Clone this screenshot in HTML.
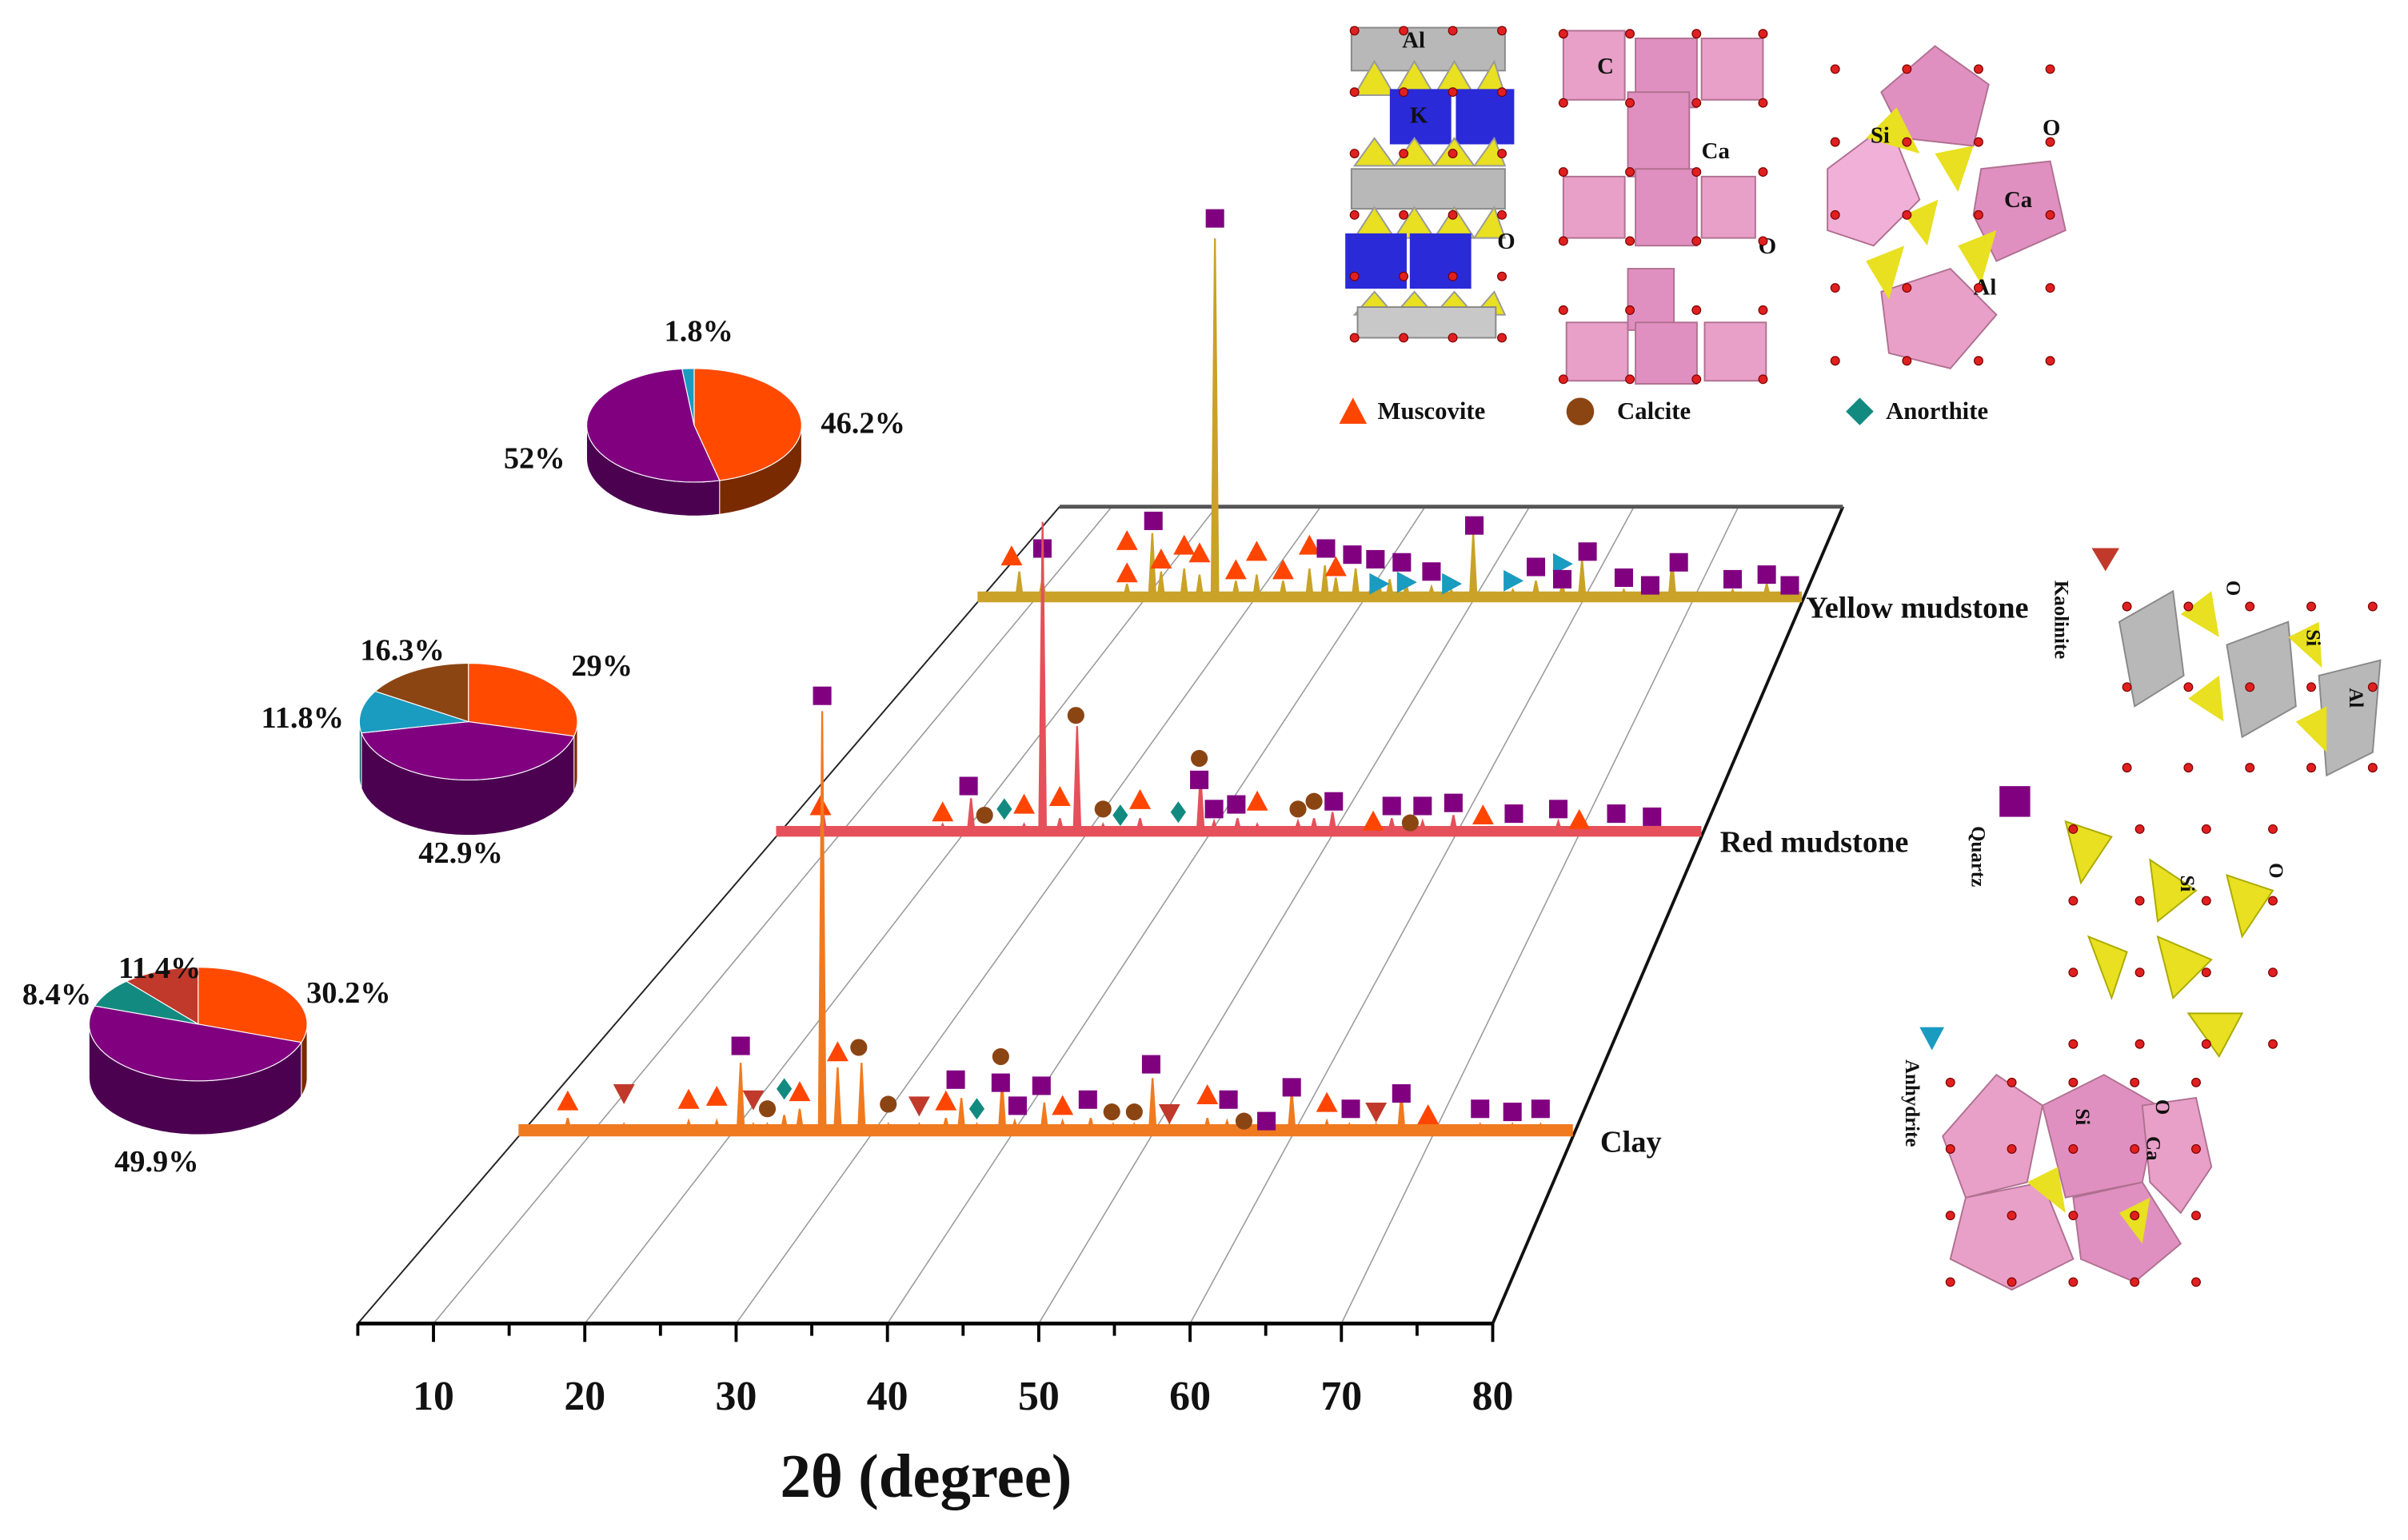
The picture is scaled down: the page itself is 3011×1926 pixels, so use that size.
<!DOCTYPE html>
<html><head><meta charset="utf-8"><style>
html,body{margin:0;padding:0;background:#fff;}
svg{display:block;}
text{font-family:"Liberation Serif",serif;font-weight:bold;fill:#111;}
</style></head><body>
<svg id="chart" width="3011" height="1926" viewBox="0 0 1568 1003" preserveAspectRatio="none" xmlns="http://www.w3.org/2000/svg">
<g id="crystals">
 <g>
  <rect x="880" y="18" width="100" height="28" fill="#b8b8b8" stroke="#888"/>
  <polygon points="882,62 895,40 908,62 921,40 934,62 947,40 960,62 973,40 980,62" fill="#e8e020" stroke="#999"/>
  <rect x="905" y="58" width="40" height="36" fill="#2a2ad8"/><rect x="948" y="58" width="38" height="36" fill="#2a2ad8"/>
  <polygon points="882,108 895,90 908,108 921,90 934,108 947,90 960,108 973,90 980,108" fill="#e8e020" stroke="#999"/>
  <rect x="880" y="110" width="100" height="26" fill="#b8b8b8" stroke="#888"/>
  <polygon points="882,155 895,135 908,155 921,135 934,155 947,135 960,155 973,135 980,155" fill="#e8e020" stroke="#999"/>
  <rect x="876" y="152" width="40" height="36" fill="#2a2ad8"/><rect x="918" y="152" width="40" height="36" fill="#2a2ad8"/>
  <polygon points="882,205 895,190 908,205 921,190 934,205 947,190 960,205 973,190 980,205" fill="#e8e020" stroke="#999"/>
  <rect x="884" y="200" width="90" height="20" fill="#c8c8c8" stroke="#888"/>
  <text x="913" y="31" font-size="15">Al</text><text x="918" y="80" font-size="15" fill="#fff">K</text><text x="975" y="162" font-size="15">O</text>
 </g>
 <g>
  <rect x="1018" y="20" width="40" height="45" fill="#e8a0c8" stroke="#b07090"/><rect x="1065" y="25" width="40" height="45" fill="#e090c0" stroke="#b07090"/><rect x="1108" y="25" width="40" height="40" fill="#e8a0c8" stroke="#b07090"/>
  <rect x="1060" y="60" width="40" height="55" fill="#e090c0" stroke="#b07090"/>
  <rect x="1018" y="115" width="40" height="40" fill="#e8a0c8" stroke="#b07090"/><rect x="1065" y="110" width="40" height="50" fill="#e090c0" stroke="#b07090"/><rect x="1108" y="115" width="35" height="40" fill="#e8a0c8" stroke="#b07090"/>
  <rect x="1060" y="175" width="30" height="40" fill="#e090c0" stroke="#b07090"/>
  <rect x="1020" y="210" width="40" height="38" fill="#e8a0c8" stroke="#b07090"/><rect x="1065" y="210" width="40" height="40" fill="#e090c0" stroke="#b07090"/><rect x="1110" y="210" width="40" height="38" fill="#e8a0c8" stroke="#b07090"/>
  <text x="1040" y="48" font-size="15">C</text><text x="1108" y="103" font-size="15">Ca</text><text x="1145" y="165" font-size="15">O</text>
 </g>
 <g>
  <polygon points="1190,110 1230,80 1250,130 1220,160 1190,150" fill="#f0b0d8" stroke="#b07090"/>
  <polygon points="1225,60 1260,30 1295,55 1285,95 1240,90" fill="#e090c0" stroke="#b07090"/>
  <polygon points="1290,110 1335,105 1345,150 1300,170 1285,140" fill="#e090c0" stroke="#b07090"/>
  <polygon points="1225,190 1270,175 1300,205 1270,240 1230,230" fill="#e8a0c8" stroke="#b07090"/>
  <polygon points="1215,90 1235,70 1250,100" fill="#e8e020"/><polygon points="1260,100 1285,95 1275,125" fill="#e8e020"/>
  <polygon points="1240,140 1262,130 1255,160" fill="#e8e020"/><polygon points="1275,160 1300,150 1290,185" fill="#e8e020"/>
  <polygon points="1215,170 1240,160 1230,195" fill="#e8e020"/>
  <text x="1218" y="93" font-size="15">Si</text><text x="1330" y="88" font-size="15">O</text><text x="1305" y="135" font-size="15">Ca</text><text x="1285" y="192" font-size="15">Al</text>
 </g>
 <g>
  <polygon points="1380,405 1415,385 1422,440 1390,460" fill="#b8b8b8" stroke="#888"/>
  <polygon points="1450,420 1490,405 1495,460 1460,480" fill="#b8b8b8" stroke="#888"/>
  <polygon points="1510,440 1550,430 1545,490 1515,505" fill="#b8b8b8" stroke="#888"/>
  <polygon points="1420,400 1440,385 1445,415" fill="#e8e020"/><polygon points="1425,455 1445,440 1448,470" fill="#e8e020"/>
  <polygon points="1490,415 1510,405 1512,435" fill="#e8e020"/><polygon points="1495,470 1515,460 1515,490" fill="#e8e020"/>
  <text transform="translate(1450,378) rotate(90)" font-size="13">O</text><text transform="translate(1502,410) rotate(90)" font-size="13">Si</text><text transform="translate(1530,448) rotate(90)" font-size="13">Al</text>
 </g>
 <g>
  <polygon points="1345,535 1375,545 1355,575" fill="#e8e020" stroke="#aa0"/><polygon points="1400,560 1430,580 1405,600" fill="#e8e020" stroke="#aa0"/>
  <polygon points="1450,570 1480,580 1460,610" fill="#e8e020" stroke="#aa0"/><polygon points="1405,610 1440,625 1415,650" fill="#e8e020" stroke="#aa0"/>
  <polygon points="1360,610 1385,620 1375,650" fill="#e8e020" stroke="#aa0"/><polygon points="1425,660 1460,660 1445,688" fill="#e8e020" stroke="#aa0"/>
  <text transform="translate(1420,570) rotate(90)" font-size="13">Si</text><text transform="translate(1478,562) rotate(90)" font-size="13">O</text>
 </g>
 <g>
  <polygon points="1265,740 1300,700 1330,720 1320,770 1280,780" fill="#e8a0c8" stroke="#b07090"/>
  <polygon points="1330,720 1370,700 1405,720 1395,770 1345,780" fill="#e090c0" stroke="#b07090"/>
  <polygon points="1280,780 1330,770 1350,820 1310,840 1270,820" fill="#e8a0c8" stroke="#b07090"/>
  <polygon points="1350,780 1395,770 1420,810 1390,835 1355,820" fill="#e090c0" stroke="#b07090"/>
  <polygon points="1395,720 1430,715 1440,760 1420,790 1400,770" fill="#e8a0c8" stroke="#b07090"/>
  <polygon points="1320,770 1340,760 1345,790" fill="#e8e020"/><polygon points="1380,790 1400,780 1395,810" fill="#e8e020"/>
  <text transform="translate(1352,722) rotate(90)" font-size="13">Si</text><text transform="translate(1404,716) rotate(90)" font-size="13">O</text><text transform="translate(1398,740) rotate(90)" font-size="13">Ca</text>
 </g>
 <g id="odots"></g>
</g>
<g id="plot"></g>
<g id="pies"></g>
<g>
 <polygon points="872,276 881,259 890,276" fill="#FF4500"/>
 <text x="897" y="273" font-size="16">Muscovite</text>
 <circle cx="1029" cy="268" r="9" fill="#8B4513"/>
 <text x="1053" y="273" font-size="16">Calcite</text>
 <polygon points="1211,259 1220,268 1211,277 1202,268" fill="#138A80"/>
 <text x="1228" y="273" font-size="16">Anorthite</text>
 <polygon points="1362,357 1380,357 1371,372" fill="#C0392B"/>
 <text transform="translate(1338,378) rotate(90)" font-size="13">Kaolinite</text>
 <rect x="1302" y="512" width="20" height="20" fill="#800080"/>
 <text transform="translate(1284,538) rotate(90)" font-size="13">Quartz</text>
 <polygon points="1250,669 1266,669 1258,684" fill="#1A9BC0"/>
 <text transform="translate(1241,690) rotate(90)" font-size="13">Anhydrite</text>
</g>
</svg>
<script>
// ---- data ----
const tickLabels = [10,20,30,40,50,60,70,80];
const sampleNames = ["Clay","Red mudstone","Yellow mudstone"];
const clayPeaks = [[8.5,12],[12.5,8],[17.1,10],[19.1,10],[20.8,48],[21.7,8],[22.7,8],[23.9,14],[25.0,18],[26.6,277],[27.7,45],[29.4,48],[31.3,8],[33.5,8],[35.4,12],[36.5,25],[37.6,8],[39.4,36],[40.3,10],[42.4,22],[43.7,10],[45.7,12],[47.3,8],[48.8,8],[50.1,38],[51.3,8],[54.0,12],[55.4,10],[56.6,6],[58.2,8],[60.0,30],[62.5,10],[64.1,8],[66.0,8],[67.8,28],[69.7,6],[73.4,8],[75.7,8],[77.7,8]];
const clayMarkers = [[8.5,'m',23],[12.5,'k',28],[17.1,'m',24],[19.1,'m',26],[20.8,'q',59],[21.7,'k',24],[22.7,'c',18],[23.9,'a',31],[25.0,'m',29],[26.6,'q',287],[27.7,'m',55],[29.2,'c',58],[31.3,'c',21],[33.5,'k',20],[35.4,'m',23],[36.1,'q',37],[37.6,'a',18],[39.3,'q',35],[39.3,'c',52],[40.5,'q',20],[42.2,'q',33],[43.7,'m',20],[45.5,'q',24],[47.2,'c',16],[48.8,'c',16],[50.0,'q',47],[51.3,'k',15],[54.0,'m',27],[55.5,'q',24],[56.6,'c',10],[58.2,'q',10],[60.0,'q',32],[62.5,'m',22],[64.2,'q',18],[66.0,'k',16],[67.8,'q',28],[69.7,'m',14],[73.4,'q',18],[75.7,'q',16],[77.7,'q',18]];
const redPeaks = [[8.8,16],[18.5,8],[20.8,25],[21.9,6],[23.5,6],[25.1,8],[26.6,205],[28.0,12],[29.4,72],[31.5,8],[32.9,6],[34.5,12],[37.6,6],[39.4,40],[40.5,10],[42.4,12],[44.0,8],[47.3,10],[48.6,12],[50.1,16],[53.4,5],[54.9,12],[56.4,5],[57.4,10],[59.9,14],[62.3,5],[64.8,6],[68.4,10],[70.1,5],[73.1,6],[76.0,6]];
const redMarkers = [[8.6,'m',20],[18.5,'m',16],[20.6,'q',33],[21.9,'c',14],[23.5,'a',18],[25.1,'m',21],[28.0,'m',26],[29.3,'c',79],[31.5,'c',18],[32.9,'a',14],[34.5,'m',24],[37.6,'a',16],[39.3,'q',37],[39.3,'c',51],[40.5,'q',18],[42.3,'q',21],[44.0,'m',23],[47.3,'c',18],[48.6,'c',23],[50.2,'q',23],[53.4,'m',10],[54.9,'q',20],[56.4,'c',9],[57.4,'q',20],[59.9,'q',22],[62.3,'m',14],[64.8,'q',15],[68.4,'q',18],[70.1,'m',11],[73.1,'q',15],[76.0,'q',13]];
const yellowPeaks = [[8.8,20],[10.9,15],[18.6,12],[20.9,45],[21.7,20],[23.8,22],[25.2,18],[26.6,237],[28.5,14],[30.4,18],[32.8,14],[35.2,22],[36.6,24],[37.6,16],[39.4,22],[41.5,14],[42.5,15],[44.0,12],[46.3,10],[48.1,8],[50.1,45],[53.7,8],[55.8,14],[58.2,12],[60.0,28],[63.8,8],[66.2,6],[68.2,28],[73.7,8],[76.8,12],[78.9,6]];
const yellowMarkers = [[8.1,'m',30],[10.9,'q',35],[18.6,'m',40],[18.6,'m',19],[21.0,'q',53],[21.7,'m',28],[23.8,'m',37],[25.2,'m',32],[26.6,'q',250],[28.5,'m',21],[30.4,'m',33],[32.8,'m',21],[35.2,'m',37],[36.7,'q',35],[37.6,'m',23],[39.1,'q',31],[41.2,'q',28],[41.5,'h',12],[43.6,'q',26],[44.0,'h',13],[46.3,'q',20],[48.1,'h',12],[50.2,'q',50],[53.7,'h',14],[55.8,'q',23],[58.2,'h',25],[58.2,'q',15],[60.5,'q',33],[63.8,'q',16],[66.2,'q',11],[68.8,'q',26],[73.7,'q',15],[76.8,'q',18],[78.9,'q',11]];
const pieYellow = [46.2,52,1.8];
const pieRed = [29,42.9,11.8,16.3];
const pieClay = [30.2,49.9,8.4,11.4];

// ---- geometry ----
const NS="http://www.w3.org/2000/svg";
function mk(tag, attrs, parent){const e=document.createElementNS(NS,tag);for(const k in attrs)e.setAttribute(k,attrs[k]);parent.appendChild(e);return e;}
function P(deg,t){const xb=233+(deg-5)/75*739, xt=690+(deg-5)/75*510;return [xb+(xt-xb)*t, 862-532*t];}
const plot=document.getElementById('plot');
const MC={m:'#FF4500',c:'#8B4513',a:'#138A80',q:'#800080',k:'#C0392B',h:'#1A9BC0'};

const plane=mk('g',{},plot);


for(const d of [10,20,30,40,50,60,70]){const a=P(d,0),b=P(d,1);
 const g=mk('line',{x1:a[0],y1:a[1],x2:b[0],y2:b[1],stroke:'#999','stroke-width':0.8},plane);
 
 }
{let a=P(5,0),b=P(5,1);const l=mk('line',{x1:a[0],y1:a[1],x2:b[0],y2:b[1],stroke:'#222','stroke-width':1},plane);
 
 
 a=P(80,0);b=P(80,1);const r=mk('line',{x1:a[0],y1:a[1],x2:b[0],y2:b[1],stroke:'#111','stroke-width':2},plane);
 
 
 a=P(5,1);b=P(80,1);const tp=mk('line',{x1:a[0],y1:a[1],x2:b[0],y2:b[1],stroke:'#555','stroke-width':2.5},plane);
 
 }

const ax=mk('g',{},plot);


{const a=P(5,0),b=P(80,0);const l=mk('line',{x1:a[0],y1:a[1],x2:b[0],y2:b[1],stroke:'#000','stroke-width':2.5},ax);
 
 }
for(let d=5;d<=80;d+=5){const a=P(d,0);const maj=d%10===0;
 const t=mk('line',{x1:a[0],y1:a[1],x2:a[0],y2:a[1]+(maj?12:8),stroke:'#000','stroke-width':2},ax);
 
 }
for(const v of tickLabels){const a=P(v,0);const t=mk('text',{x:a[0],y:918,'text-anchor':'middle','font-size':27},ax);t.textContent=v;
 
 }
{const t=mk('text',{x:603,y:975,'text-anchor':'middle','font-size':40},ax);t.textContent='2θ (degree)';
 
 }

function marker(g,type,x,y,name){let e;
 if(type==='m')e=mk('polygon',{points:`${x-7},${y+6} ${x},${y-7} ${x+7},${y+6}`,fill:MC.m},g);
 else if(type==='k')e=mk('polygon',{points:`${x-7},${y-6} ${x+7},${y-6} ${x},${y+7}`,fill:MC.k},g);
 else if(type==='h')e=mk('polygon',{points:`${x-6},${y-7} ${x+7},${y} ${x-6},${y+7}`,fill:MC.h},g);
 else if(type==='c')e=mk('circle',{cx:x,cy:y,r:5.5,fill:MC.c},g);
 else if(type==='a')e=mk('polygon',{points:`${x},${y-7} ${x+5},${y} ${x},${y+7} ${x-5},${y}`,fill:MC.a},g);
 else e=mk('rect',{x:x-6,y:y-6,width:12,height:12,fill:MC.q},g);
 
 }

function trace(name,t,color,peaks,markers,labelX,labelText,thick){
 const g=mk('g',{},plot);
 
 
 const a=P(5,t),b=P(80,t);
 const band=mk('polygon',{points:`${a[0]},${a[1]} ${b[0]},${b[1]} ${b[0]},${b[1]-thick} ${a[0]},${a[1]-thick}`,fill:color},g);
 
 
 for(const [d,h] of peaks){const p=P(d,t);
  const s=mk('polygon',{points:`${p[0]-2.2},${p[1]-3} ${p[0]},${p[1]-h} ${p[0]+2.2},${p[1]-3}`,fill:color,stroke:color,'stroke-width':1.2},g);
  
  }
 for(const [d,ty,h] of markers){const p=P(d,t);marker(g,ty,p[0],p[1]-h,name+'-marker-'+ty);}
 const lt=mk('text',{x:labelX,y:a[1]+10,'font-size':20},g);lt.textContent=labelText;
 
 
}
trace('yellow-mudstone',0.883,'#C9A227',yellowPeaks,yellowMarkers,1176,sampleNames[2],7);
trace('red-mudstone',0.596,'#E5505A',redPeaks,redMarkers,1120,sampleNames[1],7);
trace('clay',0.229,'#F07A20',clayPeaks,clayMarkers,1042,sampleNames[0],8);

const od=document.getElementById('odots');
[[882,20,96,200,4,6],[1018,22,130,225,4,6],[1195,45,140,190,4,5],[1385,395,160,105,5,3],[1350,540,130,140,4,4],[1270,705,160,130,5,4]].forEach(([x0,y0,w,h,nx,ny])=>{
 for(let r=0;r<ny;r++)for(let c=0;c<nx;c++){const ci=mk('circle',{cx:x0+c*w/(nx-1),cy:y0+r*h/(ny-1),r:2.8,fill:'#e02020',stroke:'#700','stroke-width':0.6},od);
  
  }});

const pies=document.getElementById('pies');
function pie(name,cx,cy,rx,ry,dep,vals,cols,side){
 const g=mk('g',{},pies);
 
 
 const tot=vals.reduce((a,b)=>a+b,0);let a0=0;const segs=[];
 vals.forEach((v,i)=>{const a1=a0+v/tot*360;segs.push([a0,a1,i]);a0=a1;});
 const pt=(a,yy)=>{const r=a*Math.PI/180;return [cx+rx*Math.sin(r),yy-ry*Math.cos(r)];};
 for(const [s,e,i] of segs){const lo=Math.max(s,90),hi=Math.min(e,270);if(hi<=lo)continue;
  let d='';const n=30;for(let k=0;k<=n;k++){const p=pt(lo+(hi-lo)*k/n,cy);d+=(k?'L':'M')+p[0]+','+p[1];}
  for(let k=n;k>=0;k--){const p=pt(lo+(hi-lo)*k/n,cy+dep);d+='L'+p[0]+','+p[1];}
  const sp=mk('path',{d:d+'Z',fill:side[i],stroke:'#fff','stroke-width':0.5},g);
  
  }
 for(const [s,e,i] of segs){let d=`M${cx},${cy}`;const n=40;for(let k=0;k<=n;k++){const p=pt(s+(e-s)*k/n,cy);d+='L'+p[0]+','+p[1];}
  const sl=mk('path',{d:d+'Z',fill:cols[i],stroke:'#fff','stroke-width':0.6},g);
  
  }
 return g;}
function lbl(g,x,y,t){const e=mk('text',{x:x,y:y,'text-anchor':'middle','font-size':20},g);e.textContent=t;
 
 }
let g1=pie('pie-yellow-mudstone',452,277,70,37,22,pieYellow,['#FF4A00','#800080','#1A9BC0'],['#7a2a00','#4B0050','#0d5a70']);
lbl(g1,455,222,pieYellow[2]+'%');lbl(g1,562,282,pieYellow[0]+'%');lbl(g1,348,305,pieYellow[1]+'%');
let g2=pie('pie-red-mudstone',305,470,71,38,36,pieRed,['#FF4A00','#800080','#1A9BC0','#8B4513'],['#7a2a00','#4B0050','#0d5a70','#4a2008']);
lbl(g2,262,430,pieRed[3]+'%');lbl(g2,392,440,pieRed[0]+'%');lbl(g2,197,474,pieRed[2]+'%');lbl(g2,300,562,pieRed[1]+'%');
let g3=pie('pie-clay',129,667,71,37,35,pieClay,['#FF4A00','#800080','#138A80','#C0392B'],['#7a2a00','#4B0050','#0a4a44','#6a1a10']);
lbl(g3,37,654,pieClay[2]+'%');lbl(g3,104,637,pieClay[3]+'%');lbl(g3,227,653,pieClay[0]+'%');lbl(g3,102,763,pieClay[1]+'%');
</script>
</body></html>
